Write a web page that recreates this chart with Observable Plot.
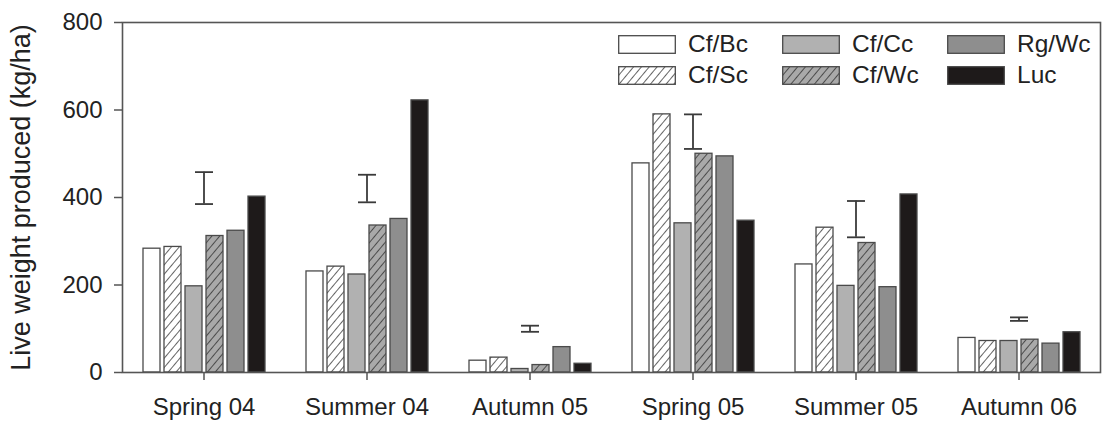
<!DOCTYPE html>
<html>
<head>
<meta charset="utf-8">
<script src="https://cdn.jsdelivr.net/npm/d3@7"></script>
<script src="https://cdn.jsdelivr.net/npm/@observablehq/plot@0.6"></script>
<style>
  body { margin: 0; background: #fff; font-family: "Liberation Sans", Arial, sans-serif; }
  #wrap { position: relative; width: 1105px; height: 422px; }
  #legend { position: absolute; left: 618px; top: 35px; display: grid;
    grid-template-columns: 164px 165px 120px; grid-template-rows: 31px 31px; grid-auto-flow: column; }
  .item { display: flex; align-items: center; height: 18px; font-size: 24.5px; color: #222; }
  .item svg { margin-right: 12px; flex: none; }
  g[aria-label="y-axis label"] text { font-size: 27px; }
</style>
</head>
<body>
<svg width="0" height="0" style="position:absolute">
  <defs>
    <pattern id="hatchWhite" patternUnits="userSpaceOnUse" width="6" height="6" patternTransform="rotate(40)">
      <rect width="6" height="6" fill="#ffffff"/>
      <line x1="0" y1="0" x2="0" y2="6" stroke="#222" stroke-width="1.4"/>
    </pattern>
    <pattern id="hatchGray" patternUnits="userSpaceOnUse" width="6" height="6" patternTransform="rotate(40)">
      <rect width="6" height="6" fill="#a9a9a9"/>
      <line x1="0" y1="0" x2="0" y2="6" stroke="#222" stroke-width="1.4"/>
    </pattern>
  </defs>
</svg>
<div id="wrap"><div id="legend"></div></div>
<script>
const seasons = ["Spring 04", "Summer 04", "Autumn 05", "Spring 05", "Summer 05", "Autumn 06"];
const treatments = ["Cf/Bc", "Cf/Sc", "Cf/Cc", "Cf/Wc", "Rg/Wc", "Luc"];
const cfBc = [283, 231, 27, 478, 247, 79];
const cfSc = [287, 242, 34, 590, 331, 72];
const cfCc = [197, 224, 8, 341, 198, 72];
const cfWc = [312, 336, 17, 500, 296, 75];
const rgWc = [324, 351, 58, 494, 195, 66];
const luc = [402, 622, 20, 347, 407, 92];
const errLow = [385, 389, 93, 511, 309, 118];
const errHigh = [458, 452, 107, 590, 392, 126];
const yTicks = [0, 200, 400, 600, 800];
const fills = ["#ffffff", "url(#hatchWhite)", "#b1b1b1", "url(#hatchGray)", "#8e8e8e", "#1e1a1a"];

const series = [cfBc, cfSc, cfCc, cfWc, rgWc, luc];
const data = seasons.flatMap((s, i) => treatments.map((t, j) => ({season: s, treatment: t, value: series[j][i]})));
const errData = seasons.map((s, i) => ({season: s, lo: errLow[i], hi: errHigh[i]}));

const capSymbol = {draw(ctx, size) { const r = Math.sqrt(size / Math.PI); ctx.moveTo(-r, 0); ctx.lineTo(r, 0); }};
const ink = "#555";

const chart = Plot.plot({
  width: 1105, height: 422,
  marginLeft: 120, marginRight: 4, marginTop: 22, marginBottom: 50,
  style: {fontFamily: "Liberation Sans, Arial, sans-serif", fontSize: "24px", color: "#222", background: "#fff", overflow: "visible"},
  fx: {domain: seasons, padding: 0, label: null},
  x: {domain: treatments, paddingInner: 0.21, paddingOuter: 0.82, axis: null},
  y: {domain: [0, 800]},
  color: {domain: treatments, range: fills},
  marks: [
    Plot.barY(data, {fx: "season", x: "treatment", y: "value", fill: "treatment", stroke: "#4a4a4a", strokeWidth: 1.3}),
    Plot.ruleX(errData, {fx: "season", x: null, y1: "lo", y2: "hi", stroke: "#3a3a3a", strokeWidth: 1.8}),
    Plot.dot(errData, {fx: "season", y: "lo", symbol: capSymbol, r: 9, stroke: "#3a3a3a", fill: "none", strokeWidth: 1.8}),
    Plot.dot(errData, {fx: "season", y: "hi", symbol: capSymbol, r: 9, stroke: "#3a3a3a", fill: "none", strokeWidth: 1.8}),
    Plot.frame({facet: "super", stroke: ink, strokeWidth: 1.6}),
    Plot.axisY({ticks: yTicks, tickSize: 8, tickPadding: 12, stroke: ink, strokeWidth: 1.5,
      label: "Live weight produced (kg/ha)", labelAnchor: "center", labelOffset: 112, labelArrow: "none"}),
    Plot.axisFx({anchor: "bottom", tickSize: 8, tickPadding: 17, stroke: ink, strokeWidth: 1.5, label: null})
  ]
});
document.getElementById("wrap").prepend(chart);

const legend = document.getElementById("legend");
treatments.forEach((t, j) => {
  const item = document.createElement("div");
  item.className = "item";
  item.innerHTML = `<svg width="58" height="19"><rect x="0.7" y="0.7" width="56.6" height="17.6" fill="${fills[j]}" stroke="#4a4a4a" stroke-width="1.3"/></svg><span>${t}</span>`;
  legend.appendChild(item);
});
</script>
</body>
</html>
